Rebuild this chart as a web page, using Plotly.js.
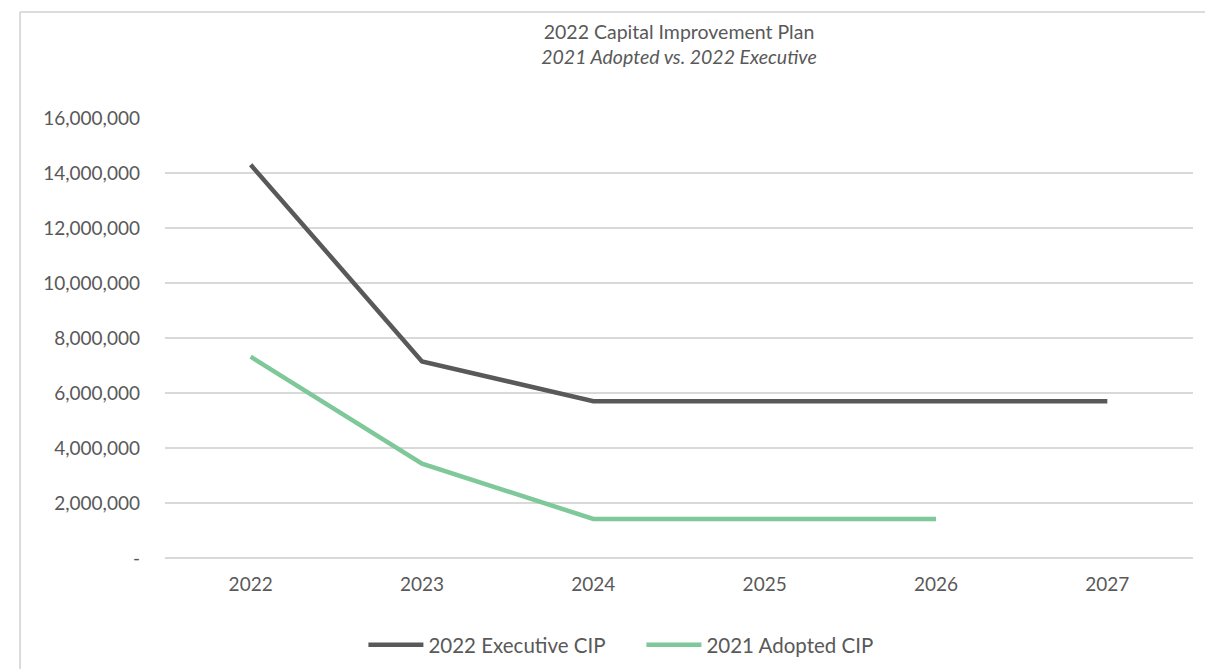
<!DOCTYPE html>
<html>
<head>
<meta charset="utf-8">
<script src="https://cdn.plot.ly/plotly-3.0.1.min.js"></script>
<style>html,body{margin:0;padding:0;background:#fff;}#chart{width:1205px;height:669px;}</style>
</head>
<body>
<div id="chart"></div>
<script>
const years = ["2022", "2023", "2024", "2025", "2026", "2027"];
const executiveCIP = [14300000, 7150000, 5700000, 5700000, 5700000, 5700000];
const adoptedCIP = [7320000, 3430000, 1420000, 1420000, 1420000, null];
const yTickVals = [0, 2000000, 4000000, 6000000, 8000000, 10000000, 12000000, 14000000, 16000000];
const yTickText = ["-", "2,000,000", "4,000,000", "6,000,000", "8,000,000", "10,000,000", "12,000,000", "14,000,000", "16,000,000"];

const font = "Lato, 'Open Sans', sans-serif";
const traces = [
  {x: years, y: executiveCIP, type: "scatter", mode: "lines", name: "2022 Executive CIP",
   line: {color: "#595959", width: 4.5}},
  {x: years, y: adoptedCIP, type: "scatter", mode: "lines", name: "2021 Adopted CIP",
   line: {color: "#7ec89a", width: 4.5}, connectgaps: false}
];
const layout = {
  width: 1205, height: 669,
  margin: {l: 165, r: 12, t: 118, b: 111, autoexpand: false},
  paper_bgcolor: "#fff", plot_bgcolor: "#fff",
  font: {family: font, color: "#595959", size: 19},
  title: {text: "2022 Capital Improvement Plan<br><i>2021 Adopted vs. 2022 Executive</i>",
    x: 0.5, xanchor: "center", xref: "paper", y: 0.942, yanchor: "middle",
    font: {family: font, size: 19.5, color: "#595959"}},
  xaxis: {type: "category", range: [-0.5, 5.5], showgrid: false, zeroline: false, showline: false,
    ticks: "", ticklabelstandoff: 13, tickfont: {size: 19, color: "#595959"}, fixedrange: true},
  yaxis: {range: [0, 16000000], tickvals: yTickVals, ticktext: yTickText,
    showgrid: true, gridcolor: "#d9d9d9", gridwidth: 1.3,
    zeroline: true, zerolinecolor: "#d9d9d9", zerolinewidth: 1.3, showline: false,
    ticks: "", ticklabelstandoff: 24, tickfont: {size: 19, color: "#595959"}, fixedrange: true},
  showlegend: true,
  legend: {orientation: "h", xref: "paper", x: 0.193, xanchor: "left",
    yref: "container", y: 0.036, yanchor: "middle",
    font: {size: 20.5, color: "#595959"}, itemwidth: 55, tracegroupgap: 0,
    entrywidth: 208, entrywidthmode: "pixels"},
  shapes: [
    {type: "line", xref: "paper", yref: "paper", x0: -0.141, x1: 1.2, y0: 1.241, y1: 1.241,
     line: {color: "#d0d0d0", width: 1.5}},
    {type: "line", xref: "paper", yref: "paper", x0: -0.141, x1: -0.141, y0: 1.241, y1: -0.4,
     line: {color: "#d0d0d0", width: 1.5}}
  ]
};
Plotly.newPlot("chart", traces, layout, {displayModeBar: false, staticPlot: true});
</script>
</body>
</html>
